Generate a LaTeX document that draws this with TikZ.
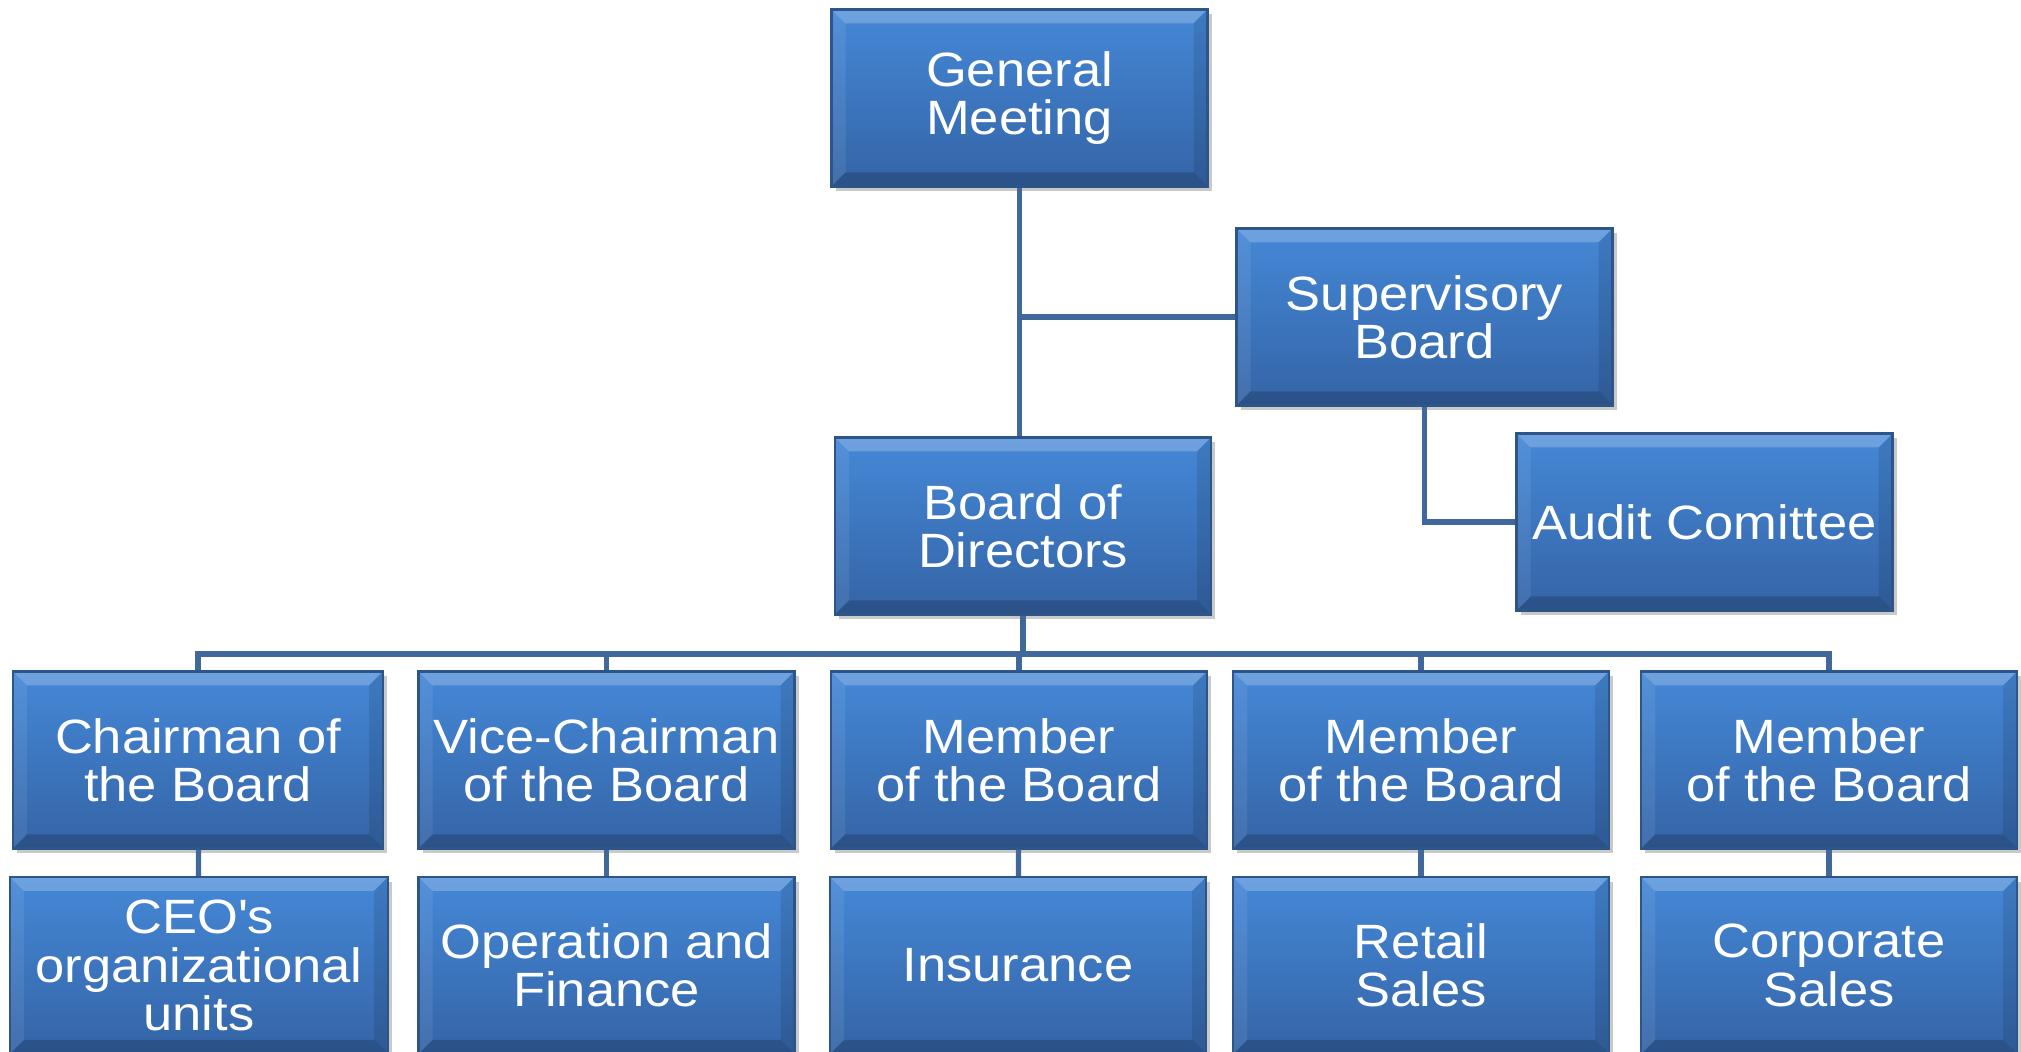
\documentclass[tikz,border=0pt]{standalone}
\usepackage{fontspec}
\setmainfont{Liberation Sans}[FakeStretch=1.09]
\usetikzlibrary{shadows}
\definecolor{unittop}{HTML}{4588D7}
\definecolor{unitbot}{HTML}{3464A6}
\definecolor{unitrim}{HTML}{2D5587}
\definecolor{linkcol}{HTML}{41689B}
\tikzset{
  unit/.style={rectangle, draw=unitrim, line width=0.6pt,
    top color=unittop, bottom color=unitbot,
    minimum width=3.76cm, minimum height=1.77cm, inner sep=0pt,
    align=center, text=white, font=\fontsize{13.7}{13.7}\selectfont,
    drop shadow={shadow xshift=0.04cm, shadow yshift=-0.05cm,
      opacity=0.3, fill=black!70},
    path picture={
      \fill[white, opacity=0.22] (path picture bounding box.north west)
        -- (path picture bounding box.north east) -- ++(-0.14,-0.14)
        -- ([shift={(0.14,-0.14)}]path picture bounding box.north west) -- cycle;
      \fill[black, opacity=0.18] (path picture bounding box.south west)
        -- (path picture bounding box.south east) -- ++(-0.14,0.14)
        -- ([shift={(0.14,0.14)}]path picture bounding box.south west) -- cycle;
      \fill[white, opacity=0.08] (path picture bounding box.north west)
        -- ++(0.14,-0.14) -- ([shift={(0.14,0.14)}]path picture bounding box.south west)
        -- (path picture bounding box.south west) -- cycle;
      \fill[black, opacity=0.10] (path picture bounding box.north east)
        -- ++(-0.14,-0.14) -- ([shift={(-0.14,0.14)}]path picture bounding box.south east)
        -- (path picture bounding box.south east) -- cycle;
    }},
  link/.style={draw=linkcol, line width=1.5pt}
}
\begin{document}
\begin{tikzpicture}
      \useasboundingbox (0,0) rectangle (20.21,10.52);
      \draw
        (10.195,9.54) node[unit] (gm){General\\Meeting}
        (14.245,7.35) node[unit] (sb){Supervisory\\Board}
        (17.045,5.30) node[unit] (audit){Audit Comittee}
        (10.23,5.26) node[unit] (bod){Board of\\Directors}
        (1.98,2.92) node[unit, minimum width=3.70cm] (chair){Chairman of\\the Board}
        (6.065,2.92) node[unit] (vice){Vice-Chairman\\of the Board}
        (10.19,2.92) node[unit] (memA){Member\\of the Board}
        (14.21,2.92) node[unit] (memB){Member\\of the Board}
        (18.29,2.92) node[unit] (memC){Member\\of the Board}
        (1.99,0.865) node[unit, minimum width=3.78cm] (ceo){CEO\textquotesingle s\\organizational\\units}
        (6.065,0.865) node[unit] (opfin){Operation and\\Finance}
        (10.18,0.865) node[unit] (insur){Insurance}
        (14.21,0.865) node[unit] (retail){Retail\\Sales}
        (18.29,0.865) node[unit] (corp){Corporate\\Sales};
      \coordinate (bus) at (10.19,3.98);
      \begin{scope}[link]
        \draw (gm.south) -- (gm.south |- bod.north);
        \draw (sb.west) -- (sb.west -| gm.south);
        \draw (sb.south) |- (audit.west);
        \draw (bod.south) -- (bod.south |- bus);
        \draw (chair.north) |- (bus) -| (memC.north);
        \draw (vice.north) -- (vice.north |- bus);
        \draw (memA.north) -- (memA.north |- bus);
        \draw (memB.north) -- (memB.north |- bus);
        \draw (chair) -- (ceo);
        \draw (vice) -- (opfin);
        \draw (memA) -- (insur);
        \draw (memB) -- (retail);
        \draw (memC) -- (corp);
      \end{scope}
    \end{tikzpicture}
\end{document}
